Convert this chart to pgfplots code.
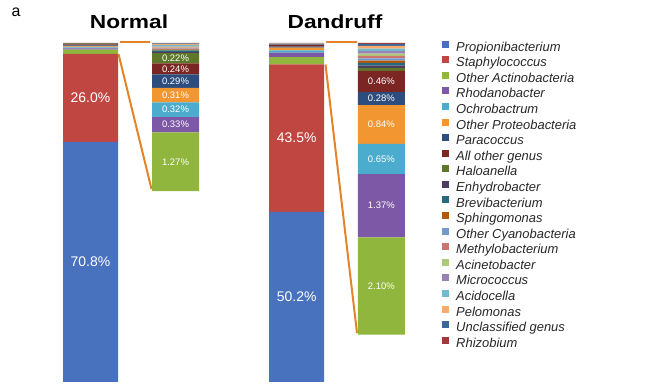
\documentclass[border=0pt]{standalone}
\usepackage{fontspec}
\setmainfont{Liberation Sans}
\newfontfamily\titlefont[FakeStretch=1.2]{Liberation Sans}
\usepackage{pgfplots}
\usepackage{pgfplotstable}
\pgfplotsset{compat=1.18}

\definecolor{cProp}{RGB}{72,114,190}
\definecolor{cStaph}{RGB}{192,70,65}
\definecolor{cOAct}{RGB}{145,182,62}
\definecolor{cRhod}{RGB}{125,88,166}
\definecolor{cOchr}{RGB}{75,172,206}
\definecolor{cOProt}{RGB}{242,150,50}
\definecolor{cPara}{RGB}{44,77,125}
\definecolor{cAllo}{RGB}{124,38,36}
\definecolor{cHalo}{RGB}{94,120,42}
\definecolor{cEnhy}{HTML}{4D3B62}
\definecolor{cBrev}{HTML}{276A7C}
\definecolor{cSphi}{HTML}{B65708}
\definecolor{cOCya}{HTML}{729ACA}
\definecolor{cMeth}{HTML}{CD7371}
\definecolor{cAcin}{HTML}{AFC97A}
\definecolor{cMicr}{HTML}{9983B5}
\definecolor{cAcid}{HTML}{6FBDD1}
\definecolor{cPelo}{HTML}{F9AB6B}
\definecolor{cUncl}{HTML}{3A679C}
\definecolor{cRhiz}{HTML}{9E3B38}
\definecolor{cLine}{RGB}{228,132,40}

% one row per bar; base = Propionibacterium + Staphylococcus
\pgfplotstableread{
bar pos zpos base Prop Staph OAct Rhod Ochr OProt Para Allo Halo Enhy Brev Sphi OCya Meth Acin Micr Acid Pelo Uncl Rhiz
Normal 90.5 175.5 96.8 70.8 26.0 1.27 0.33 0.32 0.31 0.29 0.24 0.22 0.03 0.03 0.02 0.02 0.02 0.02 0.02 0.02 0.02 0.01 0.01
Dandruff 296.7 381.3 93.7 50.2 43.5 2.10 1.37 0.65 0.84 0.28 0.46 0.06 0.05 0.06 0.05 0.05 0.05 0.05 0.06 0.05 0.06 0.04 0.02
}\bars

\pgfplotstableread{
x y lab
90.5 35.4 70.8
90.5 83.8 26.0
296.7 25.1 50.2
296.7 71.95 43.5
}\mainlabels

\pgfplotstableread{
x y lab
175.5 97.435 1.27
175.5 98.235 0.33
175.5 98.56 0.32
175.5 98.875 0.31
175.5 99.175 0.29
175.5 99.44 0.24
175.5 99.67 0.22
381.3 94.75 2.10
381.3 96.485 1.37
381.3 97.495 0.65
381.3 98.24 0.84
381.3 98.80 0.28
381.3 99.17 0.46
}\zoomlabels

\pgfplotsset{
  base/.style={scale only axis, width=666bp, height=339bp, xmin=0, xmax=666,
    at={(0bp,8bp)}, anchor=south west, hide axis},
}

\begin{document}
\begin{tikzpicture}
\useasboundingbox (0,0) rectangle (666bp,390bp);

% main bars
\begin{axis}[base, ymin=0, ymax=100, ybar stacked, bar width=55bp,
  legend image code/.code={\fill[#1] (0bp,0.3bp) rectangle (7bp,7.3bp);},
  legend cell align=left,
  legend style={at={(0.6637,1.0074)}, anchor=north west, draw=none, fill=none,
    inner sep=0pt, row sep=2.03bp,
    font=\fontsize{13}{15}\selectfont\itshape,
    nodes={inner sep=0pt, text height=9.5bp, text depth=3bp, text=black!85},
    /tikz/every odd column/.append style={column sep=7bp}},
]
\pgfplotsinvokeforeach{Prop,Staph,OAct,Rhod,Ochr,OProt,Para,Allo,Halo,Enhy,Brev,Sphi,OCya,Meth,Acin,Micr,Acid,Pelo,Uncl,Rhiz}{
  \addplot[fill=c#1, draw=none] table[x=pos, y=#1]{\bars};
}
\legend{Propionibacterium, Staphylococcus, Other Actinobacteria, Rhodanobacter, Ochrobactrum, Other Proteobacteria, Paracoccus, All other genus, Haloanella, Enhydrobacter, Brevibacterium, Sphingomonas, Other Cyanobacteria, Methylobacterium, Acinetobacter, Micrococcus, Acidocella, Pelomonas, Unclassified genus, Rhizobium}
\end{axis}

% zoomed bars (remainder above Propionibacterium + Staphylococcus)
\begin{axis}[base, ymin=92.678, ymax=100, ybar stacked, bar width=47bp]
\addplot[fill=none, draw=none] table[x=zpos, y=base]{\bars};
\pgfplotsinvokeforeach{OAct,Rhod,Ochr,OProt,Para,Allo,Halo,Enhy,Brev,Sphi,OCya,Meth,Acin,Micr,Acid,Pelo,Uncl,Rhiz}{
  \addplot[fill=c#1, draw=none] table[x=zpos, y=#1]{\bars};
}
\end{axis}

% labels main
\begin{axis}[base, ymin=0, ymax=100]
\addplot[draw=none, nodes near coords={\pgfplotspointmeta\%}, point meta=explicit symbolic,
  every node near coord/.append style={anchor=center, text=white, font=\fontsize{14}{16}\selectfont}]
  table[x=x, y=y, meta=lab]{\mainlabels};
\end{axis}

% labels zoom
\begin{axis}[base, ymin=92.678, ymax=100]
\addplot[draw=none, nodes near coords={\pgfplotspointmeta\%}, point meta=explicit symbolic,
  every node near coord/.append style={anchor=center, text=white, font=\fontsize{9.5}{11}\selectfont}]
  table[x=x, y=y, meta=lab]{\zoomlabels};
\end{axis}

% connector lines
\draw[cLine, line width=2bp] (120bp,347.5bp) -- (150bp,347.5bp);
\draw[cLine, line width=2bp] (118.5bp,336bp) -- (151.5bp,201bp);
\draw[cLine, line width=2bp] (326bp,347.5bp) -- (356.5bp,347.5bp);
\draw[cLine, line width=2bp] (325.5bp,325.5bp) -- (357bp,57bp);

% titles
\node[anchor=base west, inner sep=0pt, font=\fontsize{16}{18}\selectfont] at (11.5bp,373.3bp) {a};
\node[anchor=base, inner sep=0pt, font=\titlefont\bfseries\fontsize{19}{22}\selectfont] at (129bp,361.7bp) {Normal};
\node[anchor=base, inner sep=0pt, font=\titlefont\bfseries\fontsize{19}{22}\selectfont] at (335bp,361.7bp) {Dandruff};
\end{tikzpicture}
\end{document}
